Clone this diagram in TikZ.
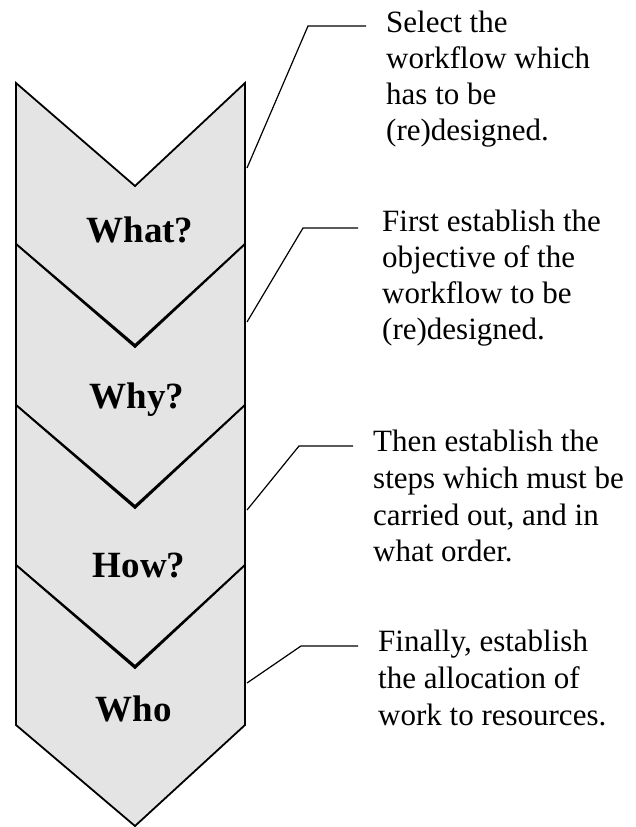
\documentclass[tikz,border=0pt]{standalone}
\usepackage{fontspec}
\setmainfont{Liberation Serif}
\usepackage{tikz}
\usetikzlibrary{positioning,calc}
\definecolor{WFFill}{HTML}{E4E4E4}
\definecolor{WFInk}{HTML}{000000}
\tikzset{
  chevron/.style={draw=WFInk,fill=WFFill,line width=1.8pt,line join=miter},
  callout/.style={draw=WFInk,line width=1.2pt},
  stage/.style={text=WFInk,font=\fontsize{37}{40}\selectfont\bfseries,inner sep=0pt,anchor=base},
  note/.style={text=WFInk,font=\fontsize{31}{36}\selectfont,align=left,inner sep=0pt,anchor=north west},
  notewide/.style={note,font=\fontsize{31}{36.7}\selectfont},
}

\begin{document}
\begin{tikzpicture}[x=1pt,y=-1pt]
    \useasboundingbox (0,0) rectangle (636,827);
    % the four stacked chevrons
    \draw[chevron] (16,83) -- (135,186) -- (245,83) -- (245,244) -- (135,345) -- (16,244) -- cycle;
    \draw[chevron] (16,244) -- (135,347) -- (245,244) -- (245,405) -- (135,506) -- (16,405) -- cycle;
    \draw[chevron] (16,405) -- (135,508) -- (245,405) -- (245,565) -- (135,666) -- (16,565) -- cycle;
    \draw[chevron] (16,565) -- (135,668) -- (245,565) -- (245,725) -- (135,826) -- (16,725) -- cycle;
    \node[stage] (what) at (140,242) {What?};
    \node[stage] (why) at (137,408) {Why?};
    \node[stage] (how) at (139,577) {How?};
    \node[stage] (who) at (134,721) {Who};
    % notes on the right
    \node[note] (selnote) at (386,11) {Select the\\workflow which\\has to be\\(re)designed.};
    \node[note] (objnote) at (382,210) {First establish the\\objective of the\\workflow to be\\(re)designed.};
    \node[notewide] (stepnote) at (373,430) {Then establish the\\steps which must be\\carried out, and in\\what order.};
    \node[notewide] (allocnote) at (378,630) {Finally, establish\\the allocation of\\work to resources.};
    % callout lines
    \coordinate (p1) at (247,168);
    \coordinate (k1) at (308,26);
    \coordinate (p2) at (247,322);
    \coordinate (k2) at (303,228);
    \coordinate (p3) at (247,510);
    \coordinate (k3) at (299,446);
    \coordinate (p4) at (247,683);
    \coordinate (k4) at (301,646);
    \draw[callout] (p1) -- (k1) -- ([xshift=-20pt]k1 -| selnote.west);
    \draw[callout] (p2) -- (k2) -- ([xshift=-24pt]k2 -| objnote.west);
    \draw[callout] (p3) -- (k3) -- ([xshift=-20pt]k3 -| stepnote.west);
    \draw[callout] (p4) -- (k4) -- ([xshift=-20pt]k4 -| allocnote.west);
  \end{tikzpicture}
\end{document}
